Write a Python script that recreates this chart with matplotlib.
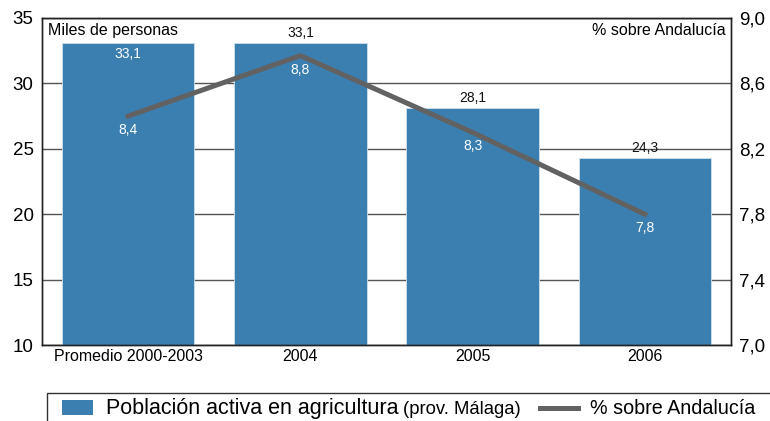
import numpy as np
import matplotlib
matplotlib.use('Agg')
from matplotlib import pyplot as plt
from matplotlib.patches import Rectangle
from matplotlib.lines import Line2D

plt.rcParams['font.family'] = ['Liberation Sans', 'DejaVu Sans']

categories = ['Promedio 2000-2003', '2004', '2005', '2006']
poblacion = [33.1, 33.1, 28.1, 24.3]        # miles de personas
porcentaje = [8.4, 8.77, 8.3, 7.8]           # % sobre Andalucía
pob_labels = ['33,1', '33,1', '28,1', '24,3']
pct_labels = ['8,4', '8,8', '8,3', '7,8']

bar_color = '#3b7fb0'
line_color = '#626262'

W, H = 770, 421
fig = plt.figure(figsize=(W / 100, H / 100), dpi=100)
ax = fig.add_axes([42 / W, 1 - 345 / H, 689 / W, 327 / H])

x = np.arange(len(categories))
ax.set_axisbelow(True)
ax.yaxis.grid(True, color='#555555', linewidth=1)
ax.bar(x, poblacion, width=0.77, color=bar_color, edgecolor='#cfe0ee', linewidth=0.6, zorder=2)
ax.set_xlim(-0.5, 3.5)
ax.set_ylim(10, 35)
ax.set_yticks([10, 15, 20, 25, 30, 35])
ax.set_xticks(x)
ax.set_xticklabels(categories, fontsize=11.5)
ax.tick_params(axis='y', labelsize=13.5, length=0, pad=6)
ax.tick_params(axis='x', length=0, pad=3)
for s in ax.spines.values():
    s.set_color('#222222')
    s.set_linewidth(1)

# bar value labels: first one inside in white, the rest above in black
for i, (v, lab) in enumerate(zip(poblacion, pob_labels)):
    if i == 0:
        ax.annotate(lab, (i, v), xytext=(0, -3), textcoords='offset points',
                    ha='center', va='top', fontsize=10, color='white', zorder=5)
    else:
        ax.annotate(lab, (i, v), xytext=(0, 2), textcoords='offset points',
                    ha='center', va='bottom', fontsize=10, color='#111111', zorder=5)

ax.text(0.008, 0.985, 'Miles de personas', transform=ax.transAxes,
        ha='left', va='top', fontsize=11.5)
ax.text(0.992, 0.985, '% sobre Andalucía', transform=ax.transAxes,
        ha='right', va='top', fontsize=11.5)

ax2 = ax.twinx()
ax2.plot(x, porcentaje, color=line_color, linewidth=3.6, zorder=3)
ax2.set_ylim(7.0, 9.0)
ax2.set_yticks([7.0, 7.4, 7.8, 8.2, 8.6, 9.0])
ax2.set_yticklabels(['7,0', '7,4', '7,8', '8,2', '8,6', '9,0'])
ax2.tick_params(axis='y', labelsize=13.5, length=0, pad=6)
for s in ax2.spines.values():
    s.set_color('#222222')
    s.set_linewidth(1)
for i, (v, lab) in enumerate(zip(porcentaje, pct_labels)):
    ax2.annotate(lab, (i, v), xytext=(0, -5), textcoords='offset points',
                 ha='center', va='top', fontsize=10, color='white', zorder=5)

# legend drawn by hand (mixed font sizes)
fig.add_artist(Rectangle((47 / W, -0.1), 1.0, 0.1 + (H - 393) / H,
                         transform=fig.transFigure, facecolor='white',
                         edgecolor='#333333', linewidth=1))
fig.add_artist(Rectangle((62 / W, 1 - 415 / H), 31 / W, 15 / H,
                         transform=fig.transFigure, facecolor=bar_color,
                         edgecolor='none'))
base = 1 - 414 / H
fig.text(106 / W, base, 'Población activa en agricultura', fontsize=15.5, va='baseline')
fig.text(403 / W, base, '(prov. Málaga)', fontsize=13.3, va='baseline')
fig.add_artist(Line2D([540 / W, 578 / W], [1 - 408 / H] * 2, transform=fig.transFigure,
                      color=line_color, linewidth=3.6))
fig.text(590 / W, base, '% sobre Andalucía', fontsize=14.2, va='baseline')

fig.savefig('out.png', dpi=100)
